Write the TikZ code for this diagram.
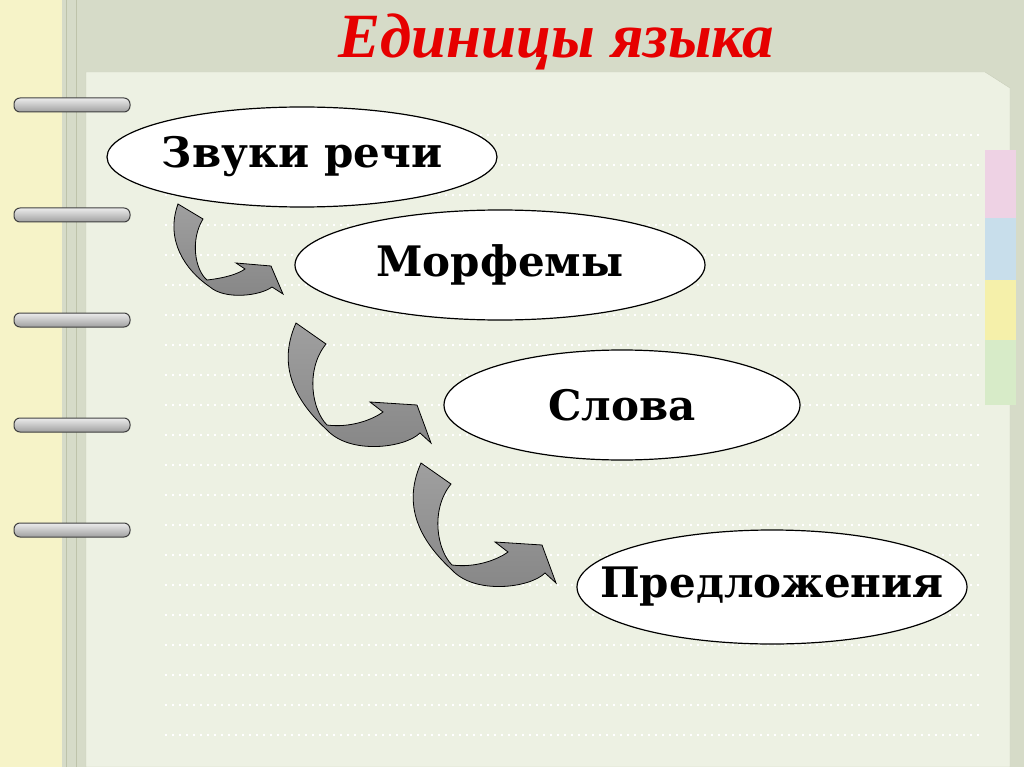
\documentclass[tikz,border=0pt]{standalone}
\usepackage{fontspec}
\usetikzlibrary{shapes.geometric}
\setmainfont{DejaVu Serif}
\newfontfamily\titlefont{Liberation Serif}
\begin{document}
\begin{tikzpicture}[x=1pt,y=-1pt,
  oval/.style={draw=black,line width=1.2pt,fill=white,ellipse},
  lbl/.style={font=\fontsize{42}{48}\selectfont\bfseries},
  blk/.style={draw=black,line width=0.8pt,top color=gray!75,bottom color=gray!95},
  ring/.style={rounded corners=6pt,draw=gray!50!black,line width=1pt,top color=gray!15,bottom color=gray!75}]
\useasboundingbox (0,0) rectangle (1024,767);
\fill[color={rgb,255:red,214;green,219;blue,200}] (0,0) rectangle (1024,767);
\fill[color={rgb,255:red,246;green,243;blue,200}] (0,0) rectangle (62,767);
\draw[color={rgb,255:red,190;green,195;blue,170},line width=1pt] (66,0)--(66,767) (76,0)--(76,767);
% page
\fill[color={rgb,255:red,237;green,241;blue,227},draw={rgb,255:red,200;green,205;blue,185}] (86,767)--(86,72)--(985,72)--(1010,88)--(1010,767)--cycle;
% tabs
\fill[color={rgb,255:red,238;green,210;blue,228}] (985,150) rectangle (1016,218);
\fill[color={rgb,255:red,200;green,222;blue,235}] (985,218) rectangle (1016,280);
\fill[color={rgb,255:red,245;green,240;blue,170}] (985,280) rectangle (1016,340);
\fill[color={rgb,255:red,215;green,235;blue,200}] (985,340) rectangle (1016,405);
\foreach \y in {135,165,...,735}
  \draw[white,line width=2pt,dash pattern=on 2pt off 5pt] (165,\y)--(980,\y);
% rings
\foreach \y in {105,215,320,425,530}
  \draw[ring] (14,\y-7) rectangle (130,\y+7);
% title
\node[font=\titlefont\fontsize{63}{66}\selectfont\bfseries\itshape,text={rgb,255:red,230;green,0;blue,0}] (t) at (556,42) {Единицы языка};
% ovals
\node[oval,minimum width=390pt,minimum height=100pt] (a) at (302,157) {};
\node[lbl] at (a) {Звуки речи};
\node[oval,minimum width=410pt,minimum height=110pt] (b) at (500,265) {};
\node[lbl] at (b) {Морфемы};
\node[oval,minimum width=356pt,minimum height=110pt] (c) at (622,405) {};
\node[lbl] at (c) {Слова};
\node[oval,minimum width=390pt,minimum height=114pt] (d) at (772,587) {};
\node[lbl] at (d) {Предложения};
% arrows
\draw[blk] (178,204)--(203,219) .. controls (190,240) and (195,270) .. (207,280)
  .. controls (225,278) and (238,274) .. (245,269) -- (236,263) -- (271,266) -- (283,294) -- (272,287)
  .. controls (260,296) and (225,300) .. (210,287) .. controls (185,270) and (165,240) .. (178,204) -- cycle;
\foreach \dx/\dy in {0/0,125/140}{
\begin{scope}[shift={(\dx,\dy)}]
\draw[blk] (296,323)--(326,344) .. controls (305,370) and (312,410) .. (327,425)
  .. controls (350,428) and (372,420) .. (383,412) -- (370,402) -- (417,405) -- (431,443) -- (420,433)
  .. controls (405,448) and (350,455) .. (327,430) .. controls (300,405) and (275,370) .. (296,323) -- cycle;
\end{scope}}
\end{tikzpicture}
\end{document}
